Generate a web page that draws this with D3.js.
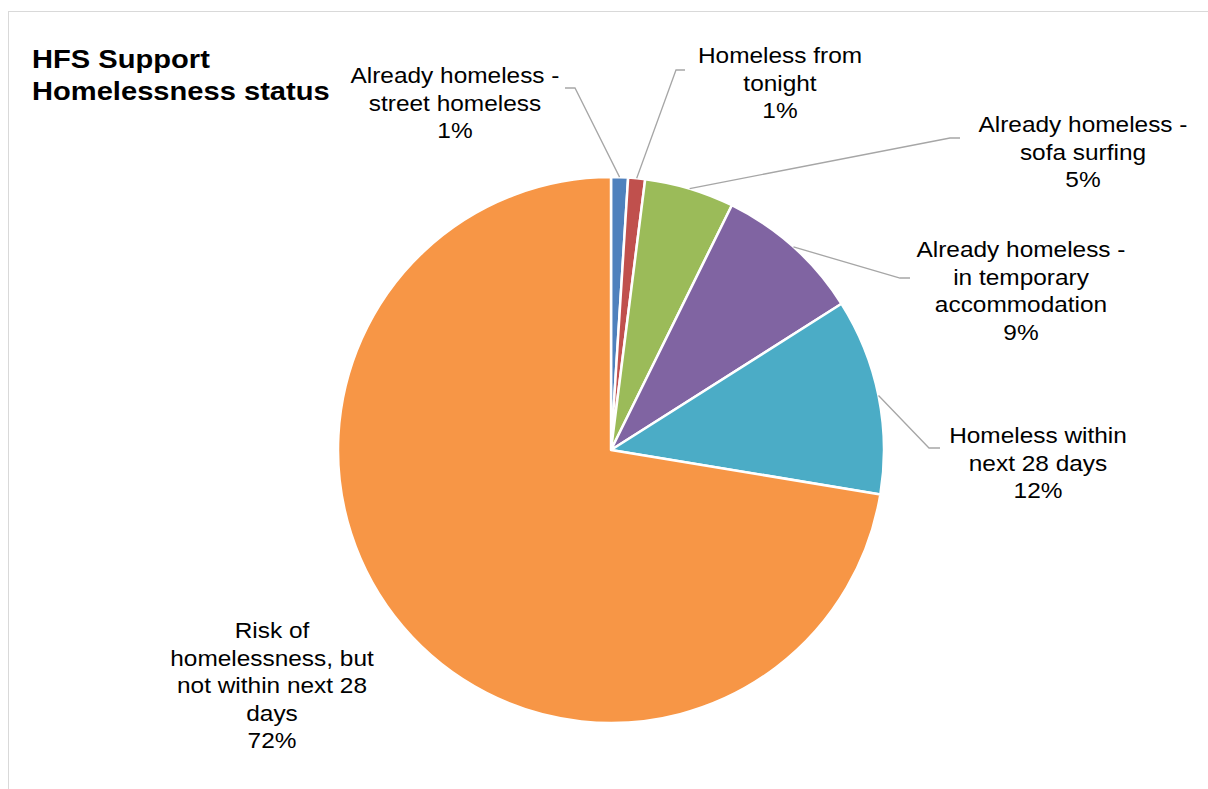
<!DOCTYPE html>
<html>
<head>
<meta charset="utf-8">
<script src="https://cdn.jsdelivr.net/npm/d3@7"></script>
<style>
  body { margin: 0; background: #fff; }
  text { font-family: "Liberation Sans", Arial, sans-serif; fill: #000; }
</style>
</head>
<body>
<div id="chart"></div>
<script>
// chart data
var categories = [
  "Already homeless - street homeless",
  "Homeless from tonight",
  "Already homeless - sofa surfing",
  "Already homeless - in temporary accommodation",
  "Homeless within next 28 days",
  "Risk of homelessness, but not within next 28 days"
];
var values = [1.0, 1.0, 5.3, 8.7, 11.6, 72.4];
var labelLines = [
  ["Already homeless -", "street homeless"],
  ["Homeless from", "tonight"],
  ["Already homeless -", "sofa surfing"],
  ["Already homeless -", "in temporary", "accommodation"],
  ["Homeless within", "next 28 days"],
  ["Risk of", "homelessness, but", "not within next 28", "days"]
];
var colors = ["#4f81bd", "#c0504d", "#9bbb59", "#8064a2", "#4bacc6", "#f79646"];

// where each data label sits (centre x, first baseline, leader elbow)
var labelLayout = [
  {x: 455, y: 83, elbow: [575, 88], end: [565, 88]},
  {x: 780, y: 63, elbow: [676, 70], end: [685, 70]},
  {x: 1083, y: 132, elbow: [950, 138], end: [960, 138]},
  {x: 1021, y: 257, elbow: [900, 278], end: [910, 278]},
  {x: 1038, y: 443, elbow: [929, 448], end: [940, 448]},
  {x: 272, y: 638, elbow: null, end: null}
];

var width = 1208, height = 789;
var cx = 611, cy = 450, radius = 273;
var stretch = 1.11; // text in the source is drawn slightly wide
var lineGap = 27.6;

var svg = d3.select("#chart")
  .append("svg")
    .attr("width", width)
    .attr("height", height);

// chart frame
svg.append("rect")
  .attr("x", 8.5)
  .attr("y", 11.5)
  .attr("width", 1230)
  .attr("height", 800)
  .attr("fill", "#fff")
  .attr("stroke", "#d9d9d9")
  .attr("stroke-width", 1);

// title
var title = svg.append("g")
  .attr("transform", "translate(32,0) scale(1.12,1)");
title.append("text")
  .attr("y", 68)
  .style("font-size", "26px")
  .style("font-weight", "bold")
  .text("HFS Support");
title.append("text")
  .attr("y", 100)
  .style("font-size", "26px")
  .style("font-weight", "bold")
  .text("Homelessness status");

var data = categories.map(function(c, i) {
  return {name: c, value: values[i], color: colors[i], lines: labelLines[i], layout: labelLayout[i]};
});

var pie = d3.pie()
  .sort(null)
  .value(function(d) { return d.value; });

var arcs = pie(data);
var total = d3.sum(values);

var arc = d3.arc()
  .innerRadius(0)
  .outerRadius(radius);

var g = svg.append("g")
  .attr("transform", "translate(" + cx + "," + cy + ")");

g.selectAll("path.slice")
  .data(arcs)
  .enter().append("path")
    .attr("class", "slice")
    .attr("d", arc)
    .attr("fill", function(d) { return d.data.color; })
    .attr("stroke", "#fff")
    .attr("stroke-width", 2.5)
    .attr("stroke-linejoin", "round");

// leader lines
arcs.forEach(function(d) {
  var L = d.data.layout;
  if (!L.elbow) return;
  var mid = (d.startAngle + d.endAngle) / 2;
  var sx = cx + Math.sin(mid) * radius;
  var sy = cy - Math.cos(mid) * radius;
  svg.append("path")
    .attr("d", "M" + sx + "," + sy + "L" + L.elbow[0] + "," + L.elbow[1] + "L" + L.end[0] + "," + L.end[1])
    .attr("fill", "none")
    .attr("stroke", "#a6a6a6")
    .attr("stroke-width", 1.3);
});

// data labels
var pct = d3.format(".0%");
arcs.forEach(function(d) {
  var L = d.data.layout;
  var lines = d.data.lines.concat([pct(d.data.value / total)]);
  var lg = svg.append("g")
    .attr("transform", "translate(" + L.x + "," + L.y + ") scale(" + stretch + ",1)");
  lines.forEach(function(t, i) {
    lg.append("text")
      .attr("x", 0)
      .attr("y", i * lineGap)
      .attr("text-anchor", "middle")
      .style("font-size", "22px")
      .text(t);
  });
});
</script>
</body>
</html>
